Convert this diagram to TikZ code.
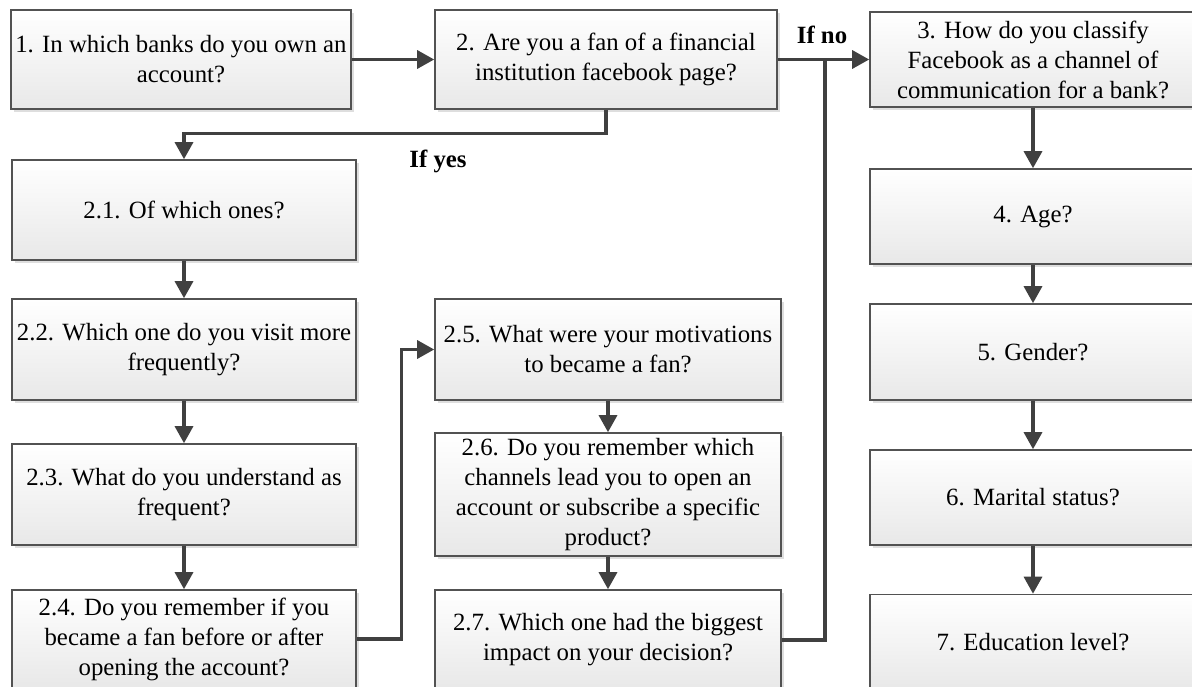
\documentclass[tikz,border=0pt]{standalone}
\usepackage{fontspec}
\setmainfont{Liberation Serif}
\usetikzlibrary{arrows.meta,positioning,shadows}

\begin{document}
\begin{tikzpicture}[x=1pt,y=-1pt,
      every node/.style={font=\fontsize{24.8}{30}\selectfont},
      qbox/.style={draw=black!68,line width=1.6pt,top color=white,bottom color=black!9,
        drop shadow={shadow xshift=3pt,shadow yshift=-3pt,fill=black!25},
        align=center,minimum width=344pt,minimum height=100pt,inner sep=2pt},
      link/.style={draw=black!75,line width=3.2pt},
      arr/.style={link,-{Triangle[length=17pt,width=18pt]}},
      tag/.style={font=\fontsize{24.8}{30}\selectfont\bfseries}]
      \clip (0,0) rectangle (1192,687);
      \fill[white] (0,0) rectangle (1192,687);
      % top row
      \node[qbox,minimum width=340pt,minimum height=99pt] (q1) at (181,59.5) {1. In which banks do you own an\\account?};
      \node[qbox,minimum width=342pt,minimum height=99pt] (q2) at (606,59.5) {2. Are you a fan of a financial\\institution facebook page?};
      \node[qbox,minimum width=326pt,minimum height=95pt] (q3) at (1033,59.5) {3. How do you classify\\Facebook as a channel of\\communication for a bank?};
      % if yes, left column
      \node[qbox] (q21) at (184,210) {2.1. Of which ones?};
      \node[qbox,minimum height=101pt] (q22) at (184,349.5) {2.2. Which one do you visit more\\frequently?};
      \node[qbox,minimum height=101pt] (q23) at (184,494.5) {2.3. What do you understand as\\frequent?};
      \node[qbox,minimum height=98pt] (q24) at (184,639) {2.4. Do you remember if you\\became a fan before or after\\opening the account?};
      % middle column
      \node[qbox,minimum width=346pt,minimum height=101pt] (q25) at (608,349.5) {2.5. What were your motivations\\to became a fan?};
      \node[qbox,minimum width=346pt,minimum height=123pt] (q26) at (608,494.5) {2.6. Do you remember which\\channels lead you to open an\\account or subscribe a specific\\product?};
      \node[qbox,minimum width=346pt] (q27) at (608,640) {2.7. Which one had the biggest\\impact on your decision?};
      % right column
      \node[qbox,minimum width=326pt,minimum height=95pt] (q4) at (1033,216.5) {4. Age?};
      \node[qbox,minimum width=326pt,minimum height=96pt] (q5) at (1033,352) {5. Gender?};
      \node[qbox,minimum width=326pt,minimum height=95pt] (q6) at (1033,497.5) {6. Marital status?};
      \node[qbox,minimum width=326pt,minimum height=95pt] (q7) at (1033,642) {7. Education level?};
      \node[tag] (lyes) at (438,161) {If yes};
      \node[tag] (lno) at (822,35) {If no};
      \coordinate (jn) at (825,59.5);
      \draw[arr] (q1) -- (q2);
      \draw[arr] (q2) -- (q3);
      \draw[arr] (q2.south) -- ++(0,24) -| (q21.north);
      \draw[arr] (q21) -- (q22);
      \draw[arr] (q22) -- (q23);
      \draw[arr] (q23) -- (q24);
      \draw[arr] (q24.east) -- ++(45,0) |- (q25.west);
      \draw[arr] (q25) -- (q26);
      \draw[arr] (q26) -- (q27);
      \draw[link] (q27.east) -| (jn);
      \draw[arr] (q3) -- (q4);
      \draw[arr] (q4) -- (q5);
      \draw[arr] (q5) -- (q6);
      \draw[arr] (q6) -- (q7);
    \end{tikzpicture}
\end{document}
